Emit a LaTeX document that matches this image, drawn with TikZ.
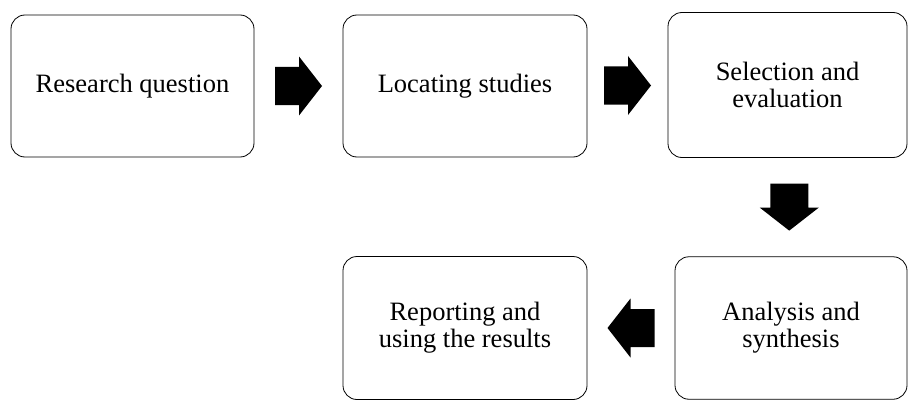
\documentclass[tikz,border=0pt]{standalone}
\usepackage{fontspec}
\setmainfont{Liberation Serif}
\usetikzlibrary{positioning, calc}

\tikzset{
  stage/.style={draw, rounded corners=14pt, line width=0.8pt, align=center, inner sep=0pt,
    font=\fontsize{26.5}{27}\selectfont},
  blockarrow/.pic={\fill[black] (-23.5,-19) -- (0.5,-19) -- (0.5,-29.5) -- (23.5,0) -- (0.5,29.5) -- (0.5,19) -- (-23.5,19) -- cycle;}
}

\begin{document}
\begin{tikzpicture}[x=1pt,y=1pt]
  \useasboundingbox (0,0) rectangle (908,400);
  % top row
  \node[stage, minimum width=243, minimum height=142] (rq) at (132.5,314) {Research question};
  \node[stage, minimum width=244, minimum height=142] (loc) at (465,314) {Locating studies};
  \node[stage, minimum width=239, minimum height=145] (sel) at (787.5,315) {Selection and\\evaluation};
  % bottom row
  \node[stage, minimum width=232, minimum height=142.5] (ana) at (791,72) {Analysis and\\synthesis};
  \node[stage, minimum width=244, minimum height=143] (rep) at (465,72) {Reporting and\\using the results};
  % block arrows
  \pic at ($(rq.east)!0.5!(loc.west)$) {blockarrow};
  \pic at ($(loc.east)!0.5!(sel.west)$) {blockarrow};
  \pic[rotate=-90] at ($(sel.south)!0.5!(ana.north)$) {blockarrow};
  \pic[rotate=180] at ($(ana.west)!0.5!(rep.east)$) {blockarrow};
\end{tikzpicture}
\end{document}
